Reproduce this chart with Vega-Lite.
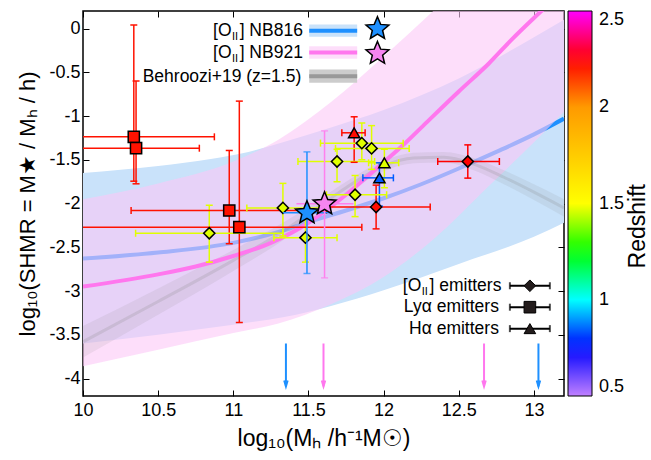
{
"$schema":"https://vega.github.io/schema/vega-lite/v6.json",
"width":481,"height":385,
"autosize":{"type":"none"},
"padding":{"left":83,"top":11,"right":87,"bottom":64},
"background":"#ffffff",
"config":{"font":"Liberation Sans","view":{"stroke":"#000000","strokeWidth":1.5},"text":{"font":"Liberation Sans","color":"#000000"}},
"resolve":{"axis":{"x":"independent","y":"independent"}},
"datasets":{
"blueband":[{"x":10.0,"lo":-3.6,"hi":-1.65},{"x":10.5,"lo":-3.5,"hi":-1.57},{"x":10.85,"lo":-3.42,"hi":-1.49},{"x":11.1,"lo":-3.36,"hi":-1.41},{"x":11.33,"lo":-3.3,"hi":-1.3},{"x":11.65,"lo":-3.17,"hi":-1.13},{"x":12.0,"lo":-2.99,"hi":-0.93},{"x":12.5,"lo":-2.69,"hi":-0.57},{"x":13.0,"lo":-2.38,"hi":-0.1},{"x":13.2,"lo":-2.22,"hi":0.1}],
"pinkband":[{"x":10.0,"lo":-3.86,"hi":-1.95},{"x":10.5,"lo":-3.67,"hi":-1.77},{"x":11.0,"lo":-3.48,"hi":-1.52},{"x":11.3,"lo":-3.37,"hi":-1.27},{"x":11.65,"lo":-3.15,"hi":-0.84},{"x":12.0,"lo":-2.84,"hi":-0.32},{"x":12.33,"lo":-2.41,"hi":0.2},{"x":12.7,"lo":-1.8,"hi":0.8},{"x":13.0,"lo":-1.3,"hi":1.3},{"x":13.2,"lo":-0.95,"hi":1.6}],
"gray":[{"x":10.0,"y":-3.58,"lo":-3.76,"hi":-3.4},{"x":10.5,"y":-3.12,"lo":-3.27,"hi":-2.97},{"x":11.0,"y":-2.65,"lo":-2.77,"hi":-2.53},{"x":11.33,"y":-2.32,"lo":-2.42,"hi":-2.22},{"x":11.5,"y":-2.12,"lo":-2.2,"hi":-2.04},{"x":11.75,"y":-1.82,"lo":-1.89,"hi":-1.75},{"x":12.0,"y":-1.57,"lo":-1.63,"hi":-1.51},{"x":12.2,"y":-1.48,"lo":-1.54,"hi":-1.42},{"x":12.4,"y":-1.47,"lo":-1.53,"hi":-1.41},{"x":12.6,"y":-1.55,"lo":-1.62,"hi":-1.48},{"x":12.8,"y":-1.7,"lo":-1.78,"hi":-1.62},{"x":13.0,"y":-1.87,"lo":-1.96,"hi":-1.78},{"x":13.2,"y":-2.05,"lo":-2.15,"hi":-1.95}],
"blueline":[{"x":10.0,"y":-2.63},{"x":10.5,"y":-2.56},{"x":11.0,"y":-2.45},{"x":11.33,"y":-2.31},{"x":11.5,"y":-2.21},{"x":11.75,"y":-2.08},{"x":12.0,"y":-1.94},{"x":12.25,"y":-1.78},{"x":12.5,"y":-1.6},{"x":12.75,"y":-1.41},{"x":13.0,"y":-1.21},{"x":13.2,"y":-1.03}],
"pinkline":[{"x":10.0,"y":-2.95},{"x":10.5,"y":-2.81},{"x":10.75,"y":-2.72},{"x":11.0,"y":-2.6},{"x":11.25,"y":-2.45},{"x":11.5,"y":-2.22},{"x":11.6,"y":-2.1},{"x":11.75,"y":-1.9},{"x":11.9,"y":-1.68},{"x":12.0,"y":-1.53},{"x":12.15,"y":-1.3},{"x":12.3,"y":-1.05},{"x":12.5,"y":-0.72},{"x":12.7,"y":-0.4},{"x":12.85,"y":-0.13},{"x":13.0,"y":0.12},{"x":13.1,"y":0.28}],
"arrows":[{"s":"NB816","x":11.35},{"s":"NB921","x":11.6},{"s":"NB921","x":12.668},{"s":"NB816","x":13.03}],
"pts":[
{"type":"OII","x":10.84,"y":-2.34,"xlo":10.35,"xhi":11.33,"ylo":-2.67,"yhi":-2.02,"z":1.47},
{"type":"OII","x":11.33,"y":-2.05,"xlo":11.09,"xhi":11.57,"ylo":-2.37,"yhi":-1.77,"z":1.47},
{"type":"OII","x":11.48,"y":-2.39,"xlo":11.27,"xhi":11.69,"ylo":-2.67,"yhi":-2.1,"z":1.47},
{"type":"OII","x":11.69,"y":-1.52,"xlo":11.43,"xhi":11.94,"ylo":-1.75,"yhi":-1.38,"z":1.47},
{"type":"OII","x":11.855,"y":-1.31,"xlo":11.58,"xhi":12.13,"ylo":-1.5,"yhi":-1.08,"z":1.47},
{"type":"OII","x":11.92,"y":-1.37,"xlo":11.68,"xhi":12.17,"ylo":-1.61,"yhi":-1.11,"z":1.47},
{"type":"OII","x":11.81,"y":-1.9,"xlo":11.62,"xhi":12.02,"ylo":-2.15,"yhi":-1.68,"z":1.47},
{"type":"OII","x":11.95,"y":-2.04,"xlo":11.59,"xhi":12.31,"ylo":-2.29,"yhi":-1.79,"z":2.23},
{"type":"OII","x":12.56,"y":-1.52,"xlo":12.36,"xhi":12.77,"ylo":-1.71,"yhi":-1.33,"z":2.25},
{"type":"LAE","x":10.338,"y":-1.238,"xlo":9.8,"xhi":10.874,"ylo":-1.745,"yhi":0.04,"z":2.22},
{"type":"LAE","x":10.353,"y":-1.368,"xlo":9.9,"xhi":10.774,"ylo":-1.775,"yhi":-0.6,"z":2.22},
{"type":"LAE","x":10.973,"y":-2.08,"xlo":10.32,"xhi":11.62,"ylo":-2.46,"yhi":-1.394,"z":2.22},
{"type":"LAE","x":11.04,"y":-2.27,"xlo":9.9,"xhi":11.855,"ylo":-3.36,"yhi":-0.83,"z":2.22},
{"type":"HAE","x":11.804,"y":-1.192,"xlo":11.722,"xhi":11.877,"ylo":-1.529,"yhi":-1.009,"z":2.23},
{"type":"HAE","x":12.005,"y":-1.535,"xlo":11.9,"xhi":12.1,"ylo":-1.82,"yhi":-1.38,"z":1.47},
{"type":"HAE","x":11.972,"y":-1.707,"xlo":11.862,"xhi":12.065,"ylo":-2.03,"yhi":-1.535,"z":0.84}
],
"stars":[
{"name":"NB816","x":11.49,"y":-2.107,"xlo":11.33,"xhi":11.65,"ylo":-2.8,"yhi":-1.41},
{"name":"NB921","x":11.607,"y":-2.004,"xlo":11.42,"xhi":11.8,"ylo":-2.85,"yhi":-1.17}
]
},
"layer":[
{"data":{"name":"blueband"},"mark":{"type":"area","color":"#c9e2fa","clip":true,"interpolate":"monotone"},
 "encoding":{
  "x":{"field":"x","type":"quantitative","scale":{"domain":[10,13.2],"nice":false,"zero":false},
   "axis":{"orient":"bottom","title":"log₁₀(Mₕ /h⁻¹M☉)","values":[10,10.5,11,11.5,12,12.5,13],"labelExpr":"toString(datum.value)","grid":false,"domain":false,"tickSize":-6,"tickColor":"#000","tickWidth":1,"labelPadding":11,"labelFontSize":18,"labelColor":"#000","labelFont":"Liberation Sans","titleFont":"Liberation Sans","titleFontSize":23,"titleFontWeight":"normal","titleColor":"#000","titlePadding":8,"labelFlush":false}},
  "y":{"field":"lo","type":"quantitative","scale":{"domain":[-4.2,0.2],"nice":false,"zero":false},
   "axis":{"orient":"left","title":"log₁₀(SHMR = M★ / Mₕ / h)","values":[0,-0.5,-1,-1.5,-2,-2.5,-3,-3.5,-4],"labelExpr":"toString(datum.value)","grid":false,"domain":false,"tickSize":-6,"tickColor":"#000","tickWidth":1,"labelPadding":9,"labelFontSize":18,"labelColor":"#000","labelFont":"Liberation Sans","titleFont":"Liberation Sans","titleFontSize":22,"titleFontWeight":"normal","titleColor":"#000","titlePadding":9,"labelFlush":false}},
  "y2":{"field":"hi"}}},
{"data":{"name":"blueline"},"mark":{"type":"line","color":"#1e90ff","strokeWidth":4,"clip":true,"interpolate":"monotone"},
 "encoding":{
  "x":{"field":"x","type":"quantitative","scale":{"domain":[10,13.2],"nice":false,"zero":false},
   "axis":{"orient":"top","title":null,"labels":false,"values":[10,10.5,11,11.5,12,12.5,13],"grid":false,"domain":false,"tickSize":-6,"tickColor":"#000","tickWidth":1}},
  "y":{"field":"y","type":"quantitative","scale":{"domain":[-4.2,0.2],"nice":false,"zero":false},
   "axis":{"orient":"right","title":null,"labels":false,"values":[0,-0.5,-1,-1.5,-2,-2.5,-3,-3.5,-4],"grid":false,"domain":false,"tickSize":-6,"tickColor":"#000","tickWidth":1}}}},
{"data":{"name":"pinkband"},"mark":{"type":"area","color":"#fcc8f7","opacity":0.6,"clip":true,"interpolate":"monotone"},
 "encoding":{
  "x":{"field":"x","type":"quantitative","scale":{"domain":[10,13.2],"nice":false,"zero":false},"axis":null},
  "y":{"field":"lo","type":"quantitative","scale":{"domain":[-4.2,0.2],"nice":false,"zero":false},"axis":null},
  "y2":{"field":"hi"}}},
{"data":{"name":"gray"},"mark":{"type":"area","color":"#808080","opacity":0.12,"clip":true,"interpolate":"monotone"},
 "encoding":{
  "x":{"field":"x","type":"quantitative","scale":{"domain":[10,13.2],"nice":false,"zero":false},"axis":null},
  "y":{"field":"lo","type":"quantitative","scale":{"domain":[-4.2,0.2],"nice":false,"zero":false},"axis":null},
  "y2":{"field":"hi"}}},
{"data":{"name":"gray"},"mark":{"type":"line","color":"#808080","opacity":0.2,"strokeWidth":3,"clip":true,"interpolate":"monotone"},
 "encoding":{
  "x":{"field":"x","type":"quantitative","scale":{"domain":[10,13.2],"nice":false,"zero":false},"axis":null},
  "y":{"field":"y","type":"quantitative","scale":{"domain":[-4.2,0.2],"nice":false,"zero":false},"axis":null}}},
{"data":{"name":"pinkline"},"mark":{"type":"line","color":"#ff77ee","strokeWidth":4,"clip":true,"interpolate":"monotone"},
 "encoding":{
  "x":{"field":"x","type":"quantitative","scale":{"domain":[10,13.2],"nice":false,"zero":false},"axis":null},
  "y":{"field":"y","type":"quantitative","scale":{"domain":[-4.2,0.2],"nice":false,"zero":false},"axis":null}}},
{"data":{"name":"arrows"},"transform":[{"filter":"datum.s == 'NB816'"}],"mark":{"type":"rule","color":"#1e90ff","strokeWidth":2},
 "encoding":{
  "x":{"field":"x","type":"quantitative","scale":{"domain":[10,13.2],"nice":false,"zero":false},"axis":null},
  "y":{"datum":-3.6,"type":"quantitative","scale":{"domain":[-4.2,0.2],"nice":false,"zero":false},"axis":null},
  "y2":{"datum":-4.09}}},
{"data":{"name":"arrows"},"transform":[{"filter":"datum.s == 'NB921'"}],"mark":{"type":"rule","color":"#ff77ee","strokeWidth":2},
 "encoding":{
  "x":{"field":"x","type":"quantitative","scale":{"domain":[10,13.2],"nice":false,"zero":false},"axis":null},
  "y":{"datum":-3.6,"type":"quantitative","scale":{"domain":[-4.2,0.2],"nice":false,"zero":false},"axis":null},
  "y2":{"datum":-4.09}}},
{"data":{"name":"arrows"},"transform":[{"filter":"datum.s == 'NB816'"}],"mark":{"type":"point","shape":"M-1,-3.4L0,0L1,-3.4","filled":false,"stroke":"#1e90ff","strokeWidth":2,"size":12,"opacity":1},
 "encoding":{
  "x":{"field":"x","type":"quantitative","scale":{"domain":[10,13.2],"nice":false,"zero":false},"axis":null},
  "y":{"datum":-4.09,"type":"quantitative","scale":{"domain":[-4.2,0.2],"nice":false,"zero":false},"axis":null}}},
{"data":{"name":"arrows"},"transform":[{"filter":"datum.s == 'NB921'"}],"mark":{"type":"point","shape":"M-1,-3.4L0,0L1,-3.4","filled":false,"stroke":"#ff77ee","strokeWidth":2,"size":12,"opacity":1},
 "encoding":{
  "x":{"field":"x","type":"quantitative","scale":{"domain":[10,13.2],"nice":false,"zero":false},"axis":null},
  "y":{"datum":-4.09,"type":"quantitative","scale":{"domain":[-4.2,0.2],"nice":false,"zero":false},"axis":null}}},
{"data":{"values":[{}]},"mark":{"type":"rect","color":"#c9e2fa"},
 "encoding":{"x":{"datum":11.505,"type":"quantitative","scale":{"domain":[10,13.2],"nice":false,"zero":false},"axis":null},"x2":{"datum":11.824},
  "y":{"datum":0.046,"type":"quantitative","scale":{"domain":[-4.2,0.2],"nice":false,"zero":false},"axis":null},"y2":{"datum":-0.095}}},
{"data":{"values":[{}]},"mark":{"type":"rect","color":"#fcc8f7","opacity":0.6},
 "encoding":{"x":{"datum":11.505,"type":"quantitative","scale":{"domain":[10,13.2],"nice":false,"zero":false},"axis":null},"x2":{"datum":11.824},
  "y":{"datum":-0.202,"type":"quantitative","scale":{"domain":[-4.2,0.2],"nice":false,"zero":false},"axis":null},"y2":{"datum":-0.346}}},
{"data":{"values":[{}]},"mark":{"type":"rect","color":"#cccccc"},
 "encoding":{"x":{"datum":11.505,"type":"quantitative","scale":{"domain":[10,13.2],"nice":false,"zero":false},"axis":null},"x2":{"datum":11.824},
  "y":{"datum":-0.469,"type":"quantitative","scale":{"domain":[-4.2,0.2],"nice":false,"zero":false},"axis":null},"y2":{"datum":-0.621}}},
{"data":{"values":[{}]},"mark":{"type":"rule","color":"#1e90ff","strokeWidth":4},
 "encoding":{"x":{"datum":11.505,"type":"quantitative","scale":{"domain":[10,13.2],"nice":false,"zero":false},"axis":null},"x2":{"datum":11.824},
  "y":{"datum":-0.025,"type":"quantitative","scale":{"domain":[-4.2,0.2],"nice":false,"zero":false},"axis":null}}},
{"data":{"values":[{}]},"mark":{"type":"rule","color":"#ff77ee","strokeWidth":4},
 "encoding":{"x":{"datum":11.505,"type":"quantitative","scale":{"domain":[10,13.2],"nice":false,"zero":false},"axis":null},"x2":{"datum":11.824},
  "y":{"datum":-0.274,"type":"quantitative","scale":{"domain":[-4.2,0.2],"nice":false,"zero":false},"axis":null}}},
{"data":{"values":[{}]},"mark":{"type":"rule","color":"#999999","strokeWidth":4},
 "encoding":{"x":{"datum":11.505,"type":"quantitative","scale":{"domain":[10,13.2],"nice":false,"zero":false},"axis":null},"x2":{"datum":11.824},
  "y":{"datum":-0.545,"type":"quantitative","scale":{"domain":[-4.2,0.2],"nice":false,"zero":false},"axis":null}}},
{"data":{"values":[{}]},"mark":{"type":"text","text":"[O","align":"left","baseline":"middle","fontSize":17.5},
 "encoding":{"x":{"datum":10.865,"type":"quantitative","scale":{"domain":[10,13.2],"nice":false,"zero":false},"axis":null},
  "y":{"datum":-0.03,"type":"quantitative","scale":{"domain":[-4.2,0.2],"nice":false,"zero":false},"axis":null}}},
{"data":{"values":[{}]},"mark":{"type":"text","text":"II","align":"left","baseline":"middle","fontSize":11,"dy":6},
 "encoding":{"x":{"datum":10.991,"type":"quantitative","scale":{"domain":[10,13.2],"nice":false,"zero":false},"axis":null},
  "y":{"datum":-0.03,"type":"quantitative","scale":{"domain":[-4.2,0.2],"nice":false,"zero":false},"axis":null}}},
{"data":{"values":[{}]},"mark":{"type":"text","text":"] NB816","align":"left","baseline":"middle","fontSize":17.5},
 "encoding":{"x":{"datum":11.042,"type":"quantitative","scale":{"domain":[10,13.2],"nice":false,"zero":false},"axis":null},
  "y":{"datum":-0.03,"type":"quantitative","scale":{"domain":[-4.2,0.2],"nice":false,"zero":false},"axis":null}}},
{"data":{"values":[{}]},"mark":{"type":"text","text":"[O","align":"left","baseline":"middle","fontSize":17.5},
 "encoding":{"x":{"datum":10.865,"type":"quantitative","scale":{"domain":[10,13.2],"nice":false,"zero":false},"axis":null},
  "y":{"datum":-0.278,"type":"quantitative","scale":{"domain":[-4.2,0.2],"nice":false,"zero":false},"axis":null}}},
{"data":{"values":[{}]},"mark":{"type":"text","text":"II","align":"left","baseline":"middle","fontSize":11,"dy":6},
 "encoding":{"x":{"datum":10.991,"type":"quantitative","scale":{"domain":[10,13.2],"nice":false,"zero":false},"axis":null},
  "y":{"datum":-0.278,"type":"quantitative","scale":{"domain":[-4.2,0.2],"nice":false,"zero":false},"axis":null}}},
{"data":{"values":[{}]},"mark":{"type":"text","text":"] NB921","align":"left","baseline":"middle","fontSize":17.5},
 "encoding":{"x":{"datum":11.042,"type":"quantitative","scale":{"domain":[10,13.2],"nice":false,"zero":false},"axis":null},
  "y":{"datum":-0.278,"type":"quantitative","scale":{"domain":[-4.2,0.2],"nice":false,"zero":false},"axis":null}}},
{"data":{"values":[{}]},"mark":{"type":"text","text":"Behroozi+19 (z=1.5)","align":"right","baseline":"middle","fontSize":17.5},
 "encoding":{"x":{"datum":11.452,"type":"quantitative","scale":{"domain":[10,13.2],"nice":false,"zero":false},"axis":null},
  "y":{"datum":-0.552,"type":"quantitative","scale":{"domain":[-4.2,0.2],"nice":false,"zero":false},"axis":null}}},
{"data":{"name":"pts"},"mark":{"type":"rule","strokeWidth":1.5,"clip":true},
 "encoding":{"x":{"field":"x","type":"quantitative","scale":{"domain":[10,13.2],"nice":false,"zero":false},"axis":null},
  "y":{"field":"ylo","type":"quantitative","scale":{"domain":[-4.2,0.2],"nice":false,"zero":false},"axis":null},"y2":{"field":"yhi"},
  "stroke":{"field":"z","type":"quantitative","scale":{"domain":[0.5,0.75,1.0,1.25,1.5,1.75,2.0,2.25,2.375,2.5],"range":["#c080ff","#0000ff","#00ffff","#00ff00","#ffff00","#ffcc00","#ff9a00","#ff0000","#ff0080","#ff00ff"],"interpolate":"rgb"},"legend":null}}},
{"data":{"name":"pts"},"mark":{"type":"rule","strokeWidth":1.5,"clip":true},
 "encoding":{"y":{"field":"y","type":"quantitative","scale":{"domain":[-4.2,0.2],"nice":false,"zero":false},"axis":null},
  "x":{"field":"xlo","type":"quantitative","scale":{"domain":[10,13.2],"nice":false,"zero":false},"axis":null},"x2":{"field":"xhi"},
  "stroke":{"field":"z","type":"quantitative","scale":{"domain":[0.5,0.75,1.0,1.25,1.5,1.75,2.0,2.25,2.375,2.5],"range":["#c080ff","#0000ff","#00ffff","#00ff00","#ffff00","#ffcc00","#ff9a00","#ff0000","#ff0080","#ff00ff"],"interpolate":"rgb"},"legend":null}}},
{"data":{"name":"pts"},"mark":{"type":"tick","orient":"horizontal","size":7,"thickness":1.5,"clip":true,"opacity":1},
 "encoding":{"x":{"field":"x","type":"quantitative","scale":{"domain":[10,13.2],"nice":false,"zero":false},"axis":null},
  "y":{"field":"ylo","type":"quantitative","scale":{"domain":[-4.2,0.2],"nice":false,"zero":false},"axis":null},
  "fill":{"field":"z","type":"quantitative","scale":{"domain":[0.5,0.625,0.75,1.0,1.25,1.5,1.75,2.0,2.25,2.5],"range":["#c080ff","#6040ff","#0000ff","#00ffff","#00ff00","#ffff00","#ffcc00","#ff9a00","#ff0000","#ff00ff"],"interpolate":"rgb"},"legend":null}}},
{"data":{"name":"pts"},"mark":{"type":"tick","orient":"horizontal","size":7,"thickness":1.5,"clip":true,"opacity":1},
 "encoding":{"x":{"field":"x","type":"quantitative","scale":{"domain":[10,13.2],"nice":false,"zero":false},"axis":null},
  "y":{"field":"yhi","type":"quantitative","scale":{"domain":[-4.2,0.2],"nice":false,"zero":false},"axis":null},
  "fill":{"field":"z","type":"quantitative","scale":{"domain":[0.5,0.625,0.75,1.0,1.25,1.5,1.75,2.0,2.25,2.5],"range":["#c080ff","#6040ff","#0000ff","#00ffff","#00ff00","#ffff00","#ffcc00","#ff9a00","#ff0000","#ff00ff"],"interpolate":"rgb"},"legend":null}}},
{"data":{"name":"pts"},"mark":{"type":"tick","orient":"vertical","size":7,"thickness":1.5,"clip":true,"opacity":1},
 "encoding":{"x":{"field":"xlo","type":"quantitative","scale":{"domain":[10,13.2],"nice":false,"zero":false},"axis":null},
  "y":{"field":"y","type":"quantitative","scale":{"domain":[-4.2,0.2],"nice":false,"zero":false},"axis":null},
  "fill":{"field":"z","type":"quantitative","scale":{"domain":[0.5,0.625,0.75,1.0,1.25,1.5,1.75,2.0,2.25,2.5],"range":["#c080ff","#6040ff","#0000ff","#00ffff","#00ff00","#ffff00","#ffcc00","#ff9a00","#ff0000","#ff00ff"],"interpolate":"rgb"},"legend":null}}},
{"data":{"name":"pts"},"mark":{"type":"tick","orient":"vertical","size":7,"thickness":1.5,"clip":true,"opacity":1},
 "encoding":{"x":{"field":"xhi","type":"quantitative","scale":{"domain":[10,13.2],"nice":false,"zero":false},"axis":null},
  "y":{"field":"y","type":"quantitative","scale":{"domain":[-4.2,0.2],"nice":false,"zero":false},"axis":null},
  "fill":{"field":"z","type":"quantitative","scale":{"domain":[0.5,0.625,0.75,1.0,1.25,1.5,1.75,2.0,2.25,2.5],"range":["#c080ff","#6040ff","#0000ff","#00ffff","#00ff00","#ffff00","#ffcc00","#ff9a00","#ff0000","#ff00ff"],"interpolate":"rgb"},"legend":null}}},
{"data":{"name":"pts"},"mark":{"type":"point","filled":true,"stroke":"#000","strokeWidth":1.5,"opacity":1,"size":125},
 "encoding":{"x":{"field":"x","type":"quantitative","scale":{"domain":[10,13.2],"nice":false,"zero":false},"axis":null},
  "y":{"field":"y","type":"quantitative","scale":{"domain":[-4.2,0.2],"nice":false,"zero":false},"axis":null},
  "shape":{"field":"type","type":"nominal","scale":{"domain":["OII","LAE","HAE"],"range":["diamond","square","triangle-up"]},"legend":null},
  "color":{"field":"z","type":"quantitative",
   "scale":{"domain":[0.5,0.75,1.0,1.25,1.5,1.75,2.0,2.25,2.5],"range":["#c080ff","#0000ff","#00ffff","#00ff00","#ffff00","#ffcc00","#ff9a00","#ff0000","#ff00ff"],"interpolate":"rgb"},
   "legend":{"type":"gradient","orient":"none","legendX":485,"legendY":0,"direction":"vertical","gradientLength":385,"gradientThickness":24,"gradientStrokeColor":"#000","gradientStrokeWidth":1,"values":[0.5,1,1.5,2,2.5],"labelExpr":"toString(datum.value)","labelFontSize":18,"labelFont":"Liberation Sans","labelColor":"#000","labelOffset":7,"title":null,"padding":0}}}},
{"data":{"name":"stars"},"transform":[{"filter":"datum.name == 'NB816'"}],"mark":{"type":"rule","strokeWidth":1.5,"color":"#1e90ff"},
 "encoding":{"x":{"field":"x","type":"quantitative","scale":{"domain":[10,13.2],"nice":false,"zero":false},"axis":null},
  "y":{"field":"ylo","type":"quantitative","scale":{"domain":[-4.2,0.2],"nice":false,"zero":false},"axis":null},"y2":{"field":"yhi"}}},
{"data":{"name":"stars"},"transform":[{"filter":"datum.name == 'NB816'"}],"mark":{"type":"rule","strokeWidth":1.5,"color":"#1e90ff"},
 "encoding":{"y":{"field":"y","type":"quantitative","scale":{"domain":[-4.2,0.2],"nice":false,"zero":false},"axis":null},
  "x":{"field":"xlo","type":"quantitative","scale":{"domain":[10,13.2],"nice":false,"zero":false},"axis":null},"x2":{"field":"xhi"}}},
{"data":{"name":"stars"},"transform":[{"filter":"datum.name == 'NB816'"}],"mark":{"type":"tick","orient":"horizontal","size":7,"thickness":1.5,"color":"#1e90ff"},
 "encoding":{"x":{"field":"x","type":"quantitative","scale":{"domain":[10,13.2],"nice":false,"zero":false},"axis":null},
  "y":{"field":"ylo","type":"quantitative","scale":{"domain":[-4.2,0.2],"nice":false,"zero":false},"axis":null}}},
{"data":{"name":"stars"},"transform":[{"filter":"datum.name == 'NB816'"}],"mark":{"type":"tick","orient":"horizontal","size":7,"thickness":1.5,"color":"#1e90ff"},
 "encoding":{"x":{"field":"x","type":"quantitative","scale":{"domain":[10,13.2],"nice":false,"zero":false},"axis":null},
  "y":{"field":"yhi","type":"quantitative","scale":{"domain":[-4.2,0.2],"nice":false,"zero":false},"axis":null}}},
{"data":{"name":"stars"},"transform":[{"filter":"datum.name == 'NB921'"}],"mark":{"type":"rule","strokeWidth":1.5,"color":"#ff80ee"},
 "encoding":{"x":{"field":"x","type":"quantitative","scale":{"domain":[10,13.2],"nice":false,"zero":false},"axis":null},
  "y":{"field":"ylo","type":"quantitative","scale":{"domain":[-4.2,0.2],"nice":false,"zero":false},"axis":null},"y2":{"field":"yhi"}}},
{"data":{"name":"stars"},"transform":[{"filter":"datum.name == 'NB921'"}],"mark":{"type":"rule","strokeWidth":1.5,"color":"#ff80ee"},
 "encoding":{"y":{"field":"y","type":"quantitative","scale":{"domain":[-4.2,0.2],"nice":false,"zero":false},"axis":null},
  "x":{"field":"xlo","type":"quantitative","scale":{"domain":[10,13.2],"nice":false,"zero":false},"axis":null},"x2":{"field":"xhi"}}},
{"data":{"name":"stars"},"transform":[{"filter":"datum.name == 'NB921'"}],"mark":{"type":"tick","orient":"horizontal","size":7,"thickness":1.5,"color":"#ff80ee"},
 "encoding":{"x":{"field":"x","type":"quantitative","scale":{"domain":[10,13.2],"nice":false,"zero":false},"axis":null},
  "y":{"field":"ylo","type":"quantitative","scale":{"domain":[-4.2,0.2],"nice":false,"zero":false},"axis":null}}},
{"data":{"name":"stars"},"transform":[{"filter":"datum.name == 'NB921'"}],"mark":{"type":"tick","orient":"horizontal","size":7,"thickness":1.5,"color":"#ff80ee"},
 "encoding":{"x":{"field":"x","type":"quantitative","scale":{"domain":[10,13.2],"nice":false,"zero":false},"axis":null},
  "y":{"field":"yhi","type":"quantitative","scale":{"domain":[-4.2,0.2],"nice":false,"zero":false},"axis":null}}},
{"data":{"name":"stars"},"transform":[{"filter":"datum.name == 'NB816'"}],"mark":{"type":"point","shape":"M0,-1L0.2645,-0.364L0.951,-0.309L0.428,0.139L0.588,0.809L0,0.45L-0.588,0.809L-0.428,0.139L-0.951,-0.309L-0.2645,-0.364Z","filled":true,"fill":"#1e90ff","stroke":"#000","strokeWidth":1.5,"size":580,"opacity":1},
 "encoding":{"x":{"field":"x","type":"quantitative","scale":{"domain":[10,13.2],"nice":false,"zero":false},"axis":null},
  "y":{"field":"y","type":"quantitative","scale":{"domain":[-4.2,0.2],"nice":false,"zero":false},"axis":null}}},
{"data":{"name":"stars"},"transform":[{"filter":"datum.name == 'NB921'"}],"mark":{"type":"point","shape":"M0,-1L0.2645,-0.364L0.951,-0.309L0.428,0.139L0.588,0.809L0,0.45L-0.588,0.809L-0.428,0.139L-0.951,-0.309L-0.2645,-0.364Z","filled":true,"fill":"#f585f0","stroke":"#000","strokeWidth":1.5,"size":580,"opacity":1},
 "encoding":{"x":{"field":"x","type":"quantitative","scale":{"domain":[10,13.2],"nice":false,"zero":false},"axis":null},
  "y":{"field":"y","type":"quantitative","scale":{"domain":[-4.2,0.2],"nice":false,"zero":false},"axis":null}}},
{"data":{"values":[{}]},"mark":{"type":"point","shape":"M0,-1L0.2645,-0.364L0.951,-0.309L0.428,0.139L0.588,0.809L0,0.45L-0.588,0.809L-0.428,0.139L-0.951,-0.309L-0.2645,-0.364Z","filled":true,"fill":"#1e90ff","stroke":"#000","strokeWidth":1.5,"size":580,"opacity":1},
 "encoding":{"x":{"datum":11.959,"type":"quantitative","scale":{"domain":[10,13.2],"nice":false,"zero":false},"axis":null},
  "y":{"datum":-0.003,"type":"quantitative","scale":{"domain":[-4.2,0.2],"nice":false,"zero":false},"axis":null}}},
{"data":{"values":[{}]},"mark":{"type":"point","shape":"M0,-1L0.2645,-0.364L0.951,-0.309L0.428,0.139L0.588,0.809L0,0.45L-0.588,0.809L-0.428,0.139L-0.951,-0.309L-0.2645,-0.364Z","filled":true,"fill":"#f585f0","stroke":"#000","strokeWidth":1.5,"size":580,"opacity":1},
 "encoding":{"x":{"datum":11.959,"type":"quantitative","scale":{"domain":[10,13.2],"nice":false,"zero":false},"axis":null},
  "y":{"datum":-0.286,"type":"quantitative","scale":{"domain":[-4.2,0.2],"nice":false,"zero":false},"axis":null}}},
{"data":{"values":[{"t":"OII","yy":-2.94},{"t":"LAE","yy":-3.185},{"t":"HAE","yy":-3.43}]},"mark":{"type":"rule","color":"#000","strokeWidth":2},
 "encoding":{"x":{"datum":12.84,"type":"quantitative","scale":{"domain":[10,13.2],"nice":false,"zero":false},"axis":null},"x2":{"datum":13.106},
  "y":{"field":"yy","type":"quantitative","scale":{"domain":[-4.2,0.2],"nice":false,"zero":false},"axis":null}}},
{"data":{"values":[{"t":"OII","yy":-2.94},{"t":"LAE","yy":-3.185},{"t":"HAE","yy":-3.43}]},"mark":{"type":"tick","orient":"vertical","size":7,"thickness":2,"color":"#000"},
 "encoding":{"x":{"datum":12.84,"type":"quantitative","scale":{"domain":[10,13.2],"nice":false,"zero":false},"axis":null},
  "y":{"field":"yy","type":"quantitative","scale":{"domain":[-4.2,0.2],"nice":false,"zero":false},"axis":null}}},
{"data":{"values":[{"t":"OII","yy":-2.94},{"t":"LAE","yy":-3.185},{"t":"HAE","yy":-3.43}]},"mark":{"type":"tick","orient":"vertical","size":7,"thickness":2,"color":"#000"},
 "encoding":{"x":{"datum":13.106,"type":"quantitative","scale":{"domain":[10,13.2],"nice":false,"zero":false},"axis":null},
  "y":{"field":"yy","type":"quantitative","scale":{"domain":[-4.2,0.2],"nice":false,"zero":false},"axis":null}}},
{"data":{"values":[{"t":"OII","yy":-2.94},{"t":"LAE","yy":-3.185},{"t":"HAE","yy":-3.43}]},"mark":{"type":"point","filled":true,"color":"#231c1c","stroke":"#000","strokeWidth":1,"size":135,"opacity":1},
 "encoding":{"x":{"datum":12.973,"type":"quantitative","scale":{"domain":[10,13.2],"nice":false,"zero":false},"axis":null},
  "y":{"field":"yy","type":"quantitative","scale":{"domain":[-4.2,0.2],"nice":false,"zero":false},"axis":null},
  "shape":{"field":"t","type":"nominal","scale":{"domain":["OII","LAE","HAE"],"range":["diamond","square","triangle-up"]},"legend":null}}},
{"data":{"values":[{}]},"mark":{"type":"text","text":"[O","align":"left","baseline":"middle","fontSize":17.5},
 "encoding":{"x":{"datum":12.128,"type":"quantitative","scale":{"domain":[10,13.2],"nice":false,"zero":false},"axis":null},
  "y":{"datum":-2.94,"type":"quantitative","scale":{"domain":[-4.2,0.2],"nice":false,"zero":false},"axis":null}}},
{"data":{"values":[{}]},"mark":{"type":"text","text":"II","align":"left","baseline":"middle","fontSize":11,"dy":6},
 "encoding":{"x":{"datum":12.254,"type":"quantitative","scale":{"domain":[10,13.2],"nice":false,"zero":false},"axis":null},
  "y":{"datum":-2.94,"type":"quantitative","scale":{"domain":[-4.2,0.2],"nice":false,"zero":false},"axis":null}}},
{"data":{"values":[{}]},"mark":{"type":"text","text":"] emitters","align":"left","baseline":"middle","fontSize":17.5},
 "encoding":{"x":{"datum":12.305,"type":"quantitative","scale":{"domain":[10,13.2],"nice":false,"zero":false},"axis":null},
  "y":{"datum":-2.94,"type":"quantitative","scale":{"domain":[-4.2,0.2],"nice":false,"zero":false},"axis":null}}},
{"data":{"values":[{}]},"mark":{"type":"text","text":"Lyα emitters","align":"right","baseline":"middle","fontSize":17.5},
 "encoding":{"x":{"datum":12.767,"type":"quantitative","scale":{"domain":[10,13.2],"nice":false,"zero":false},"axis":null},
  "y":{"datum":-3.185,"type":"quantitative","scale":{"domain":[-4.2,0.2],"nice":false,"zero":false},"axis":null}}},
{"data":{"values":[{}]},"mark":{"type":"text","text":"Hα emitters","align":"right","baseline":"middle","fontSize":17.5},
 "encoding":{"x":{"datum":12.767,"type":"quantitative","scale":{"domain":[10,13.2],"nice":false,"zero":false},"axis":null},
  "y":{"datum":-3.43,"type":"quantitative","scale":{"domain":[-4.2,0.2],"nice":false,"zero":false},"axis":null}}},
{"data":{"values":[{}]},"mark":{"type":"text","text":"Redshift","align":"center","baseline":"middle","fontSize":23,"angle":270},
 "encoding":{"x":{"datum":13.69,"type":"quantitative","scale":{"domain":[10,13.2],"nice":false,"zero":false},"axis":null},
  "y":{"datum":-2.26,"type":"quantitative","scale":{"domain":[-4.2,0.2],"nice":false,"zero":false},"axis":null}}}
]
}
